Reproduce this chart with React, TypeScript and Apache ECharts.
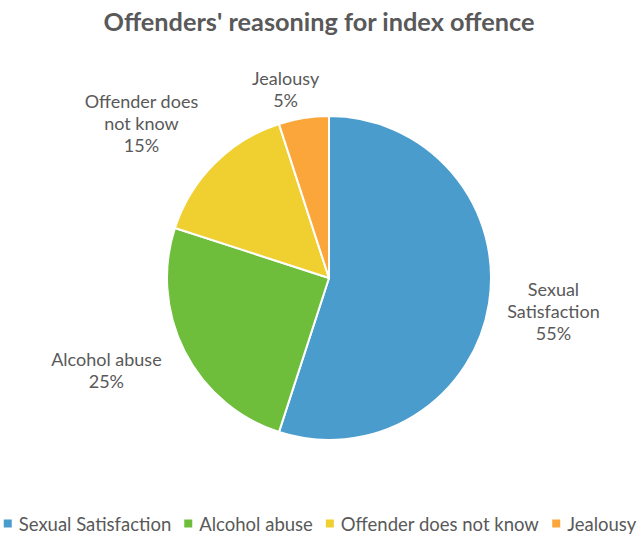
import React, { useEffect, useRef } from "react";
import * as echarts from "echarts";

const categories = ["Sexual Satisfaction", "Alcohol abuse", "Offender does not know", "Jealousy"];
const labelNames = ["Sexual\nSatisfaction", "Alcohol abuse", "Offender does\nnot know", "Jealousy"];
const values = [55, 25, 15, 5];
const colors = ["#4A9CCD", "#6EBE3C", "#F0D031", "#FBA63B"];

// label placement style (distance beyond pie edge, small nudges)
const PIE_CENTER = [329, 278];
const PIE_RADIUS = 162;
const LABEL_DIST = 180;
const labelNudge = [
  [1, 0],
  [-13, 0],
  [-20, -4],
  [-10, 11],
];

const FONT = "Lato, 'Open Sans', sans-serif";

export default function App() {
  const ref = useRef<HTMLDivElement>(null);
  useEffect(() => {
    if (!ref.current) return;
    const chart = echarts.init(ref.current, null, { renderer: "svg" });
    const total = values.reduce((a, b) => a + b, 0);
    const cum: number[] = [];
    values.reduce((acc, v, i) => {
      cum[i] = acc;
      return acc + v;
    }, 0);
    chart.setOption({
      animation: false,
      backgroundColor: "#ffffff",
      title: {
        text: "Offenders' reasoning for index offence",
        left: "center",
        top: 3,
        textStyle: { fontFamily: FONT, fontSize: 25.3, fontWeight: "bold", color: "#595959" },
      },
      legend: {
        bottom: 1,
        left: "center",
        padding: 0,
        itemWidth: 10,
        itemHeight: 10,
        itemGap: 11,
        icon: "rect",
        textStyle: { fontFamily: FONT, fontSize: 18.5, color: "#595959", padding: [0, 0, 0, 1] },
        data: categories,
      },
      series: [
        {
          type: "pie",
          center: PIE_CENTER,
          radius: PIE_RADIUS,
          startAngle: 90,
          clockwise: true,
          avoidLabelOverlap: false,
          data: categories.map((c, i) => ({
            name: c,
            value: values[i],
            itemStyle: { color: colors[i] },
            label: { formatter: labelNames[i] + "\n{d}%" },
          })),
          itemStyle: { borderColor: "#ffffff", borderWidth: 2 },
          label: {
            show: true,
            position: "outside",
            overflow: "none",
            fontFamily: FONT,
            fontSize: 18,
            lineHeight: 22,
            color: "#595959",
          },
          labelLine: { show: false },
          labelLayout: (params: any) => {
            const i = params.dataIndex;
            const frac = (cum[i] + values[i] / 2) / total;
            const theta = ((90 - 360 * frac) * Math.PI) / 180;
            const ux = Math.cos(theta);
            const uy = -Math.sin(theta);
            const hw = params.labelRect.width / 2;
            const hh = params.labelRect.height / 2;
            return {
              x: PIE_CENTER[0] + LABEL_DIST * ux + hw * ux + labelNudge[i][0],
              y: PIE_CENTER[1] + LABEL_DIST * uy + hh * uy + labelNudge[i][1],
              align: "center",
              verticalAlign: "middle",
            };
          },
          emphasis: { disabled: true },
        },
      ],
    });
    return () => chart.dispose();
  }, []);
  return (
    <div
      ref={ref}
      style={{ position: "absolute", left: 0, top: 0, width: 638, height: 534 }}
    />
  );
}
